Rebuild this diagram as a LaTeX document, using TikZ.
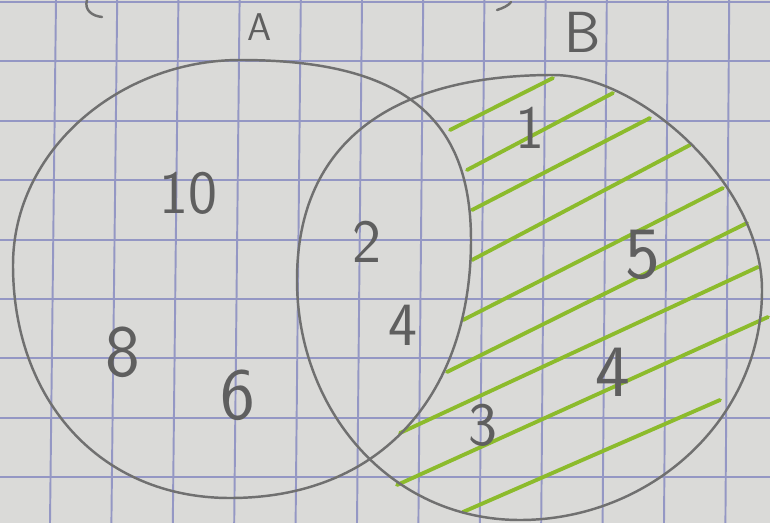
\documentclass[tikz,border=0pt]{standalone}
\usetikzlibrary{positioning}
\definecolor{paper}{HTML}{DADAD8}
\definecolor{gridblue}{HTML}{9497C4}
\definecolor{pencil}{HTML}{707070}
\definecolor{hatchgreen}{HTML}{8CBB2C}
\tikzset{
	gridline/.style={
			draw=gridblue,
			line width=1.1pt
		},
	setline/.style={
			draw=pencil,
			line width=1.4pt,
			line cap=round
		},
	hatchline/.style={
			draw=hatchgreen,
			line width=2.2pt,
			line cap=round
		},
	numnode/.style={
			text=pencil!85!black,
			inner sep=0pt,
			font=\sffamily\fontsize{35}{35}\selectfont
		},
	bignumnode/.style={
			numnode,
			font=\sffamily\fontsize{42}{42}\selectfont
		}
}

\begin{document}
\begin{tikzpicture}[x=0.02cm, y=-0.02cm]

  \useasboundingbox (0,0) rectangle (770,523);
  \fill[paper] (0,0) rectangle (770,523);

  % squared paper
  \foreach \k in {0,...,11}
    \draw[gridline] ({56+61.2*\k},0) -- ({50+61.4*\k},523);
  \foreach \k in {0,...,8}
    \draw[gridline] (0,{2+59.4*\k}) -- (770,{2+59.4*\k});

  % hatching of B without A
  \draw[hatchline] (450,130) -- (553,78);
  \draw[hatchline] (467,170) -- (613,93);
  \draw[hatchline] (472,210) -- (650,118);
  \draw[hatchline] (472,260) -- (690,145);
  \draw[hatchline] (463,320) -- (723,188);
  \draw[hatchline] (447,372) -- (747,223);
  \draw[hatchline] (400,433) -- (758,267);
  \draw[hatchline] (397,485) -- (768,317);
  \draw[hatchline] (463,512) -- (720,400);

  % set A
  \coordinate (topA) at (240,60);
  \coordinate (rightA) at (471,240);
  \coordinate (bottomA) at (230,498);
  \coordinate (leftA) at (13,265);
  \draw[setline] (topA) .. controls (400,60) and (471,115) .. (rightA)
    .. controls (471,390) and (385,498) .. (bottomA)
    .. controls (100,498) and (13,400) .. (leftA)
    .. controls (13,150) and (120,60) .. cycle;

  % set B
  \coordinate (topB) at (553,75);
  \coordinate (rightB) at (762,290);
  \coordinate (bottomB) at (520,520);
  \coordinate (leftB) at (297,280);
  \draw[setline] (topB) .. controls (640,75) and (762,185) .. (rightB)
    .. controls (762,420) and (650,520) .. (bottomB)
    .. controls (390,520) and (297,410) .. (leftB)
    .. controls (297,140) and (395,75) .. cycle;

  % stray marks at the top edge
  \draw[setline] (87,0) .. controls (84,10) and (92,16) .. (102,17);
  \draw[setline] (497,10) .. controls (503,8) and (508,6) .. (511,2);

  \node[numnode, font=\sffamily\fontsize{22}{22}\selectfont] (labelA) at (260,27) {A};
  \node[numnode, font=\sffamily\fontsize{33}{33}\selectfont] (labelB) at (583,32) {B};

  \node[numnode] (n10) at (188,193) {10};
  \node[bignumnode] (n8) at (123,352) {8};
  \node[bignumnode] (n6) at (238,395) {6};
  \node[numnode] (n2) at (367,242) {2};
  \node[numnode] (n4a) at (403,325) {4};
  \node[numnode] (n1) at (530,128) {1};
  \node[bignumnode] (n5) at (643,255) {5};
  \node[bignumnode] (n4b) at (613,372) {4};
  \node[numnode] (n3) at (483,425) {3};

\end{tikzpicture}
\end{document}
